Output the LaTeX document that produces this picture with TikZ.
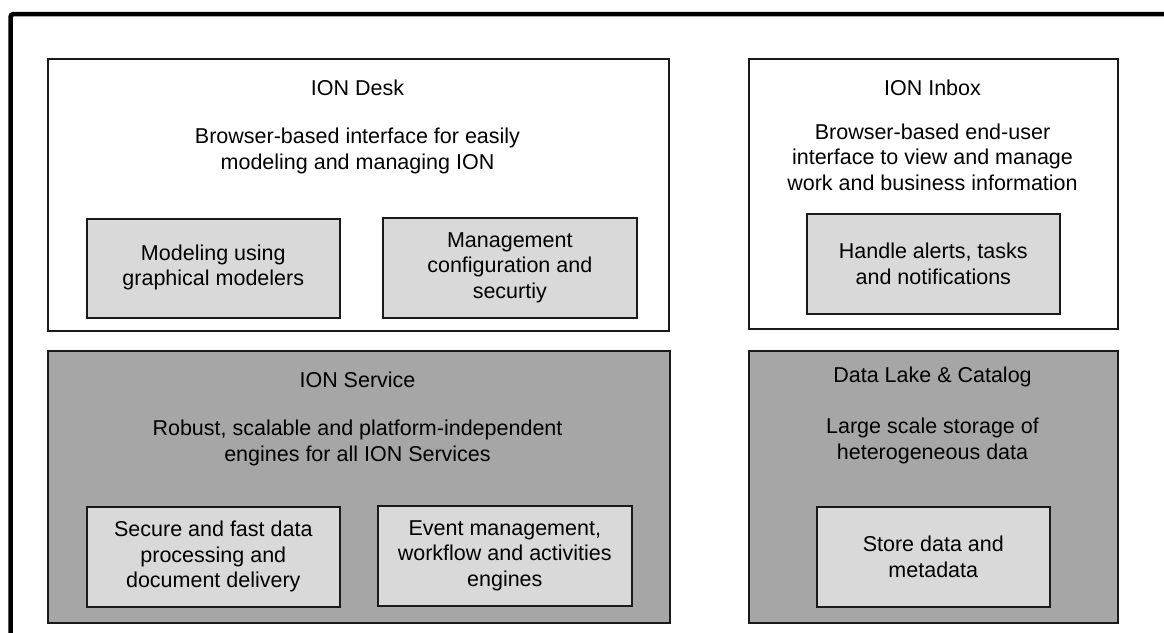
\documentclass[tikz,border=0pt]{standalone}
\usepackage{fontspec}
\setmainfont{Liberation Sans}
\definecolor{darkfill}{HTML}{A6A6A6}
\definecolor{lightfill}{HTML}{D9D9D9}
\definecolor{edge}{HTML}{1A1A1A}
\begin{document}
\begin{tikzpicture}[x=1pt,y=-1pt,
  panel/.style={draw=edge, line width=1.6pt, anchor=north west, inner sep=0pt},
  lightpanel/.style={panel, fill=white},
  darkpanel/.style={panel, fill=darkfill},
  subbox/.style={panel, fill=lightfill},
  txt/.style={align=center, inner sep=0pt, font=\fontsize{21.5}{25.5}\selectfont, text=black}]
\useasboundingbox (0,0) rectangle (1164,632);
\clip (0,0) rectangle (1164,632);
\fill[white] (0,0) rectangle (1164,632);
% outer frame
\coordinate (fbl) at (10.5,700);
\coordinate (ftl) at (10.5,14);
\coordinate (ftr) at (1250,14);
\draw[line width=4.5pt, rounded corners=3pt] (fbl) -- (ftl) -- (ftr);
% panels
\node[lightpanel, minimum width=621, minimum height=272] (desk) at (47,58) {};
\node[lightpanel, minimum width=369, minimum height=270] (inbox) at (748,58) {};
\node[darkpanel, minimum width=622, minimum height=272] (service) at (47,350) {};
\node[darkpanel, minimum width=369, minimum height=272] (lake) at (748,350) {};
% sub boxes
\node[subbox, minimum width=253, minimum height=99] (model) at (86,218) {};
\node[subbox, minimum width=254, minimum height=100] (mgmt) at (382,217) {};
\node[subbox, minimum width=253, minimum height=100] (handle) at (806,213) {};
\node[subbox, minimum width=253, minimum height=100] (secure) at (86,506) {};
\node[subbox, minimum width=254, minimum height=100] (event) at (377,505) {};
\node[subbox, minimum width=233, minimum height=100] (store) at (816,506) {};
% texts
\node[txt] (deskt) at (357.5,88) {ION Desk};
\node[txt] (deskb) at (357.5,151) {Browser-based interface for easily\\modeling and managing ION};
\node[txt] (inboxt) at (932.5,88) {ION Inbox};
\node[txt] (inboxb) at (932.5,157) {Browser-based end-user\\interface to view and manage\\work and business information};
\node[txt] (modelt) at ([yshift=1]model.center) {Modeling using\\graphical modelers};
\node[txt] (mgmtt) at (mgmt.center) {Management\\configuration and\\securtiy};
\node[txt] (handlet) at (handle.center) {Handle alerts, tasks\\and notifications};
\node[txt] (servicet) at (357.5,380) {ION Service};
\node[txt] (serviceb) at (357.5,443) {Robust, scalable and platform-independent\\engines for all ION Services};
\node[txt] (laket) at (932.5,377) {Data Lake \& Catalog};
\node[txt] (lakeb) at (932.5,441) {Large scale storage of\\heterogeneous data};
\node[txt] (securet) at (secure.center) {Secure and fast data\\processing and\\document delivery};
\node[txt] (eventt) at (event.center) {Event management,\\workflow and activities\\engines};
\node[txt] (storet) at (store.center) {Store data and\\metadata};
\end{tikzpicture}
\end{document}
